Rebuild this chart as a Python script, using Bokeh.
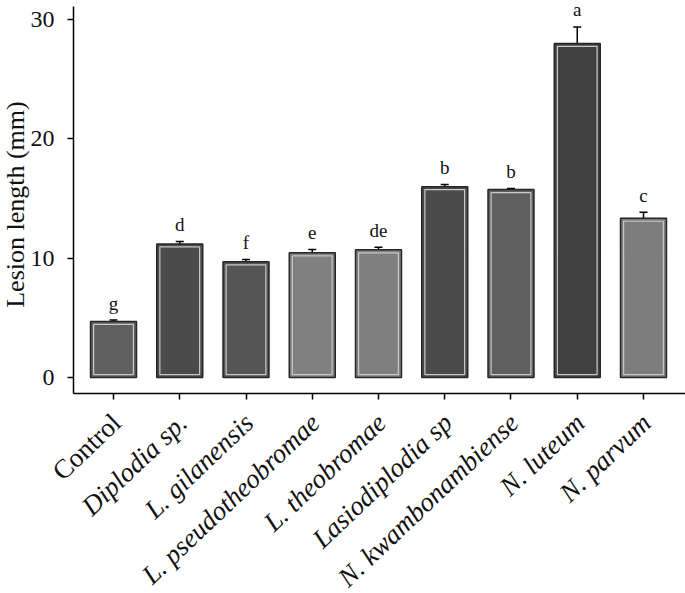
from bokeh.plotting import figure
from bokeh.models import ColumnDataSource, Range1d, FixedTicker, Whisker, Label, TeeHead
from bokeh.transform import dodge
from bokeh.embed import file_html
from bokeh.resources import INLINE

categories = ["Control", "Diplodia sp.", "L. gilanensis", "L. pseudotheobromae",
              "L. theobromae", "Lasiodiplodia sp", "N. kwambonambiense", "N. luteum", "N. parvum"]
lesion_mean = [4.7, 11.2, 9.7, 10.45, 10.7, 16.0, 15.75, 28.0, 13.35]
lesion_se = [0.12, 0.2, 0.2, 0.28, 0.22, 0.18, 0.1, 1.38, 0.5]
letters = ["g", "d", "f", "e", "de", "b", "b", "a", "c"]
bar_colors = ["#5f5f5f", "#4b4b4b", "#555555", "#808080", "#7f7f7f",
              "#4b4b4b", "#5f5f5f", "#404040", "#7d7d7d"]
lower_err_colors = ["black"] * 7 + ["#e6e6e6"] + ["black"]
italic_label = [False] + [True] * 8
y_ticks = [0, 10, 20, 30]
y_title = "Lesion length (mm)"

FONT = "Liberation Serif"
xs = list(range(1, len(categories) + 1))
upper = [m + s for m, s in zip(lesion_mean, lesion_se)]
lower = [m - s for m, s in zip(lesion_mean, lesion_se)]
src = ColumnDataSource(dict(x=xs, mean=lesion_mean, upper=upper, lower=lower,
                            color=bar_colors, lo_color=lower_err_colors))

# axis placement (data units)
X_AXIS_AT = -1.34
Y_AXIS_AT = 0.396
X_END = 9.634
Y_END = 31.1

p = figure(width=685, height=593, output_backend="svg", toolbar_location=None,
           x_range=Range1d(-0.7057, X_END), y_range=Range1d(-18.1, 31.6),
           min_border_left=0, min_border_right=0, min_border_top=0, min_border_bottom=0)
p.outline_line_color = None
p.grid.visible = False
p.background_fill_color = "white"

p.vbar(x="x", top="mean", bottom=0, width=0.694, source=src,
       fill_color="color", line_color="#262626", line_width=1.5)
p.vbar(x="x", top=dodge("mean", -0.25), bottom=0.25, width=0.6, source=src,
       fill_color=None, line_color="#c8c8c8", line_width=1.2)

p.add_layout(Whisker(base="x", lower="mean", upper="upper", source=src,
                     line_color="black", line_width=1.5,
                     upper_head=TeeHead(size=8, line_color="black", line_width=1.5),
                     lower_head=None))
p.add_layout(Whisker(base="x", lower="lower", upper="mean", source=src,
                     line_color="lo_color", line_width=1.5,
                     lower_head=TeeHead(size=8, line_color="lo_color", line_width=1.5),
                     upper_head=None))

for x, top, letter in zip(xs, upper, letters):
    p.add_layout(Label(x=x, y=top, text=letter, text_align="center",
                       text_baseline="alphabetic", y_offset=17,
                       text_font=FONT, text_font_size="19px", text_color="#111111"))

for x, cat, it in zip(xs, categories, italic_label):
    p.add_layout(Label(x=x, y=-3.6, text=cat, angle=0.76,
                       text_align="right", text_baseline="middle", x_offset=3, y_offset=2,
                       text_font=FONT, text_font_style="italic" if it else "normal",
                       text_font_size="27px", text_color="#111111"))

p.add_layout(Label(x=-0.48, y=14.5, text=y_title, angle=1.5708,
                   text_align="center", text_baseline="middle",
                   text_font=FONT, text_font_size="26px", text_color="#111111"))

p.xaxis.ticker = FixedTicker(ticks=xs)
p.xaxis.major_label_overrides = {x: "" for x in xs}
p.xaxis.fixed_location = X_AXIS_AT
p.xaxis.bounds = (Y_AXIS_AT, X_END)
p.yaxis.ticker = FixedTicker(ticks=y_ticks)
p.yaxis.fixed_location = Y_AXIS_AT
p.yaxis.bounds = (X_AXIS_AT, Y_END)
for ax in (p.xaxis, p.yaxis):
    ax.axis_line_color = "black"
    ax.axis_line_width = 1.5
    ax.major_tick_line_color = "black"
    ax.major_tick_line_width = 1.5
    ax.major_tick_out = 6
    ax.major_tick_in = 0
    ax.minor_tick_line_color = None
    ax.major_label_text_font = FONT
    ax.major_label_text_font_size = "24px"
    ax.major_label_text_color = "#111111"
p.yaxis.major_label_standoff = 13

open("out.html", "w").write(file_html(p, INLINE))
